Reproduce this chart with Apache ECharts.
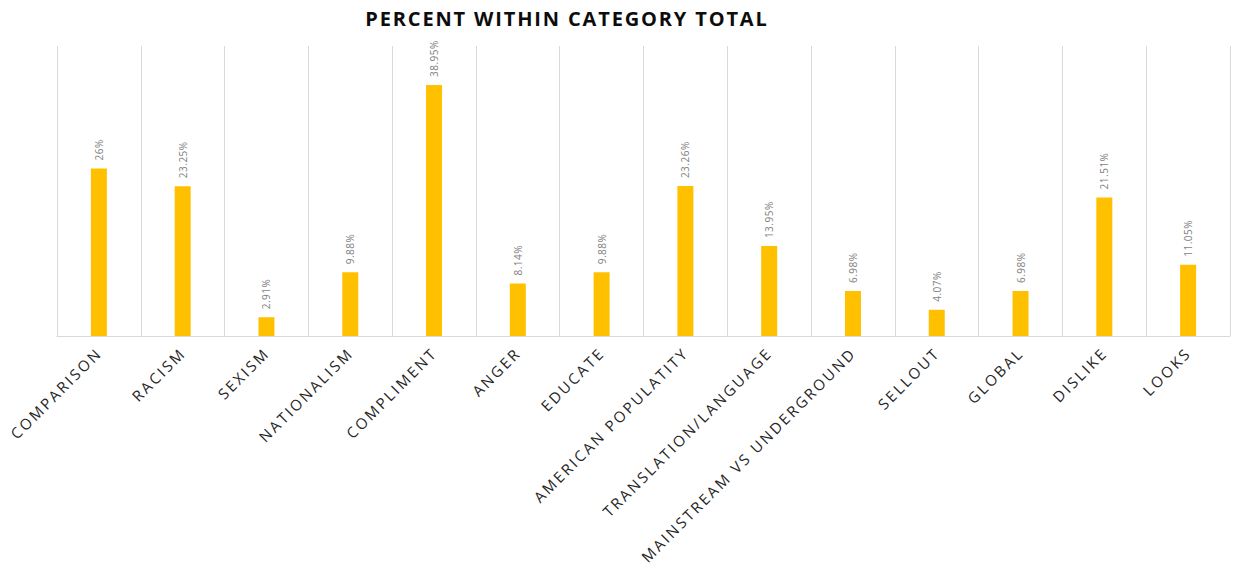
<!DOCTYPE html>
<html>
<head>
<meta charset="utf-8">
<script src="https://cdn.jsdelivr.net/npm/echarts@6/dist/echarts.min.js"></script>
<style>
html,body{margin:0;padding:0;background:#fff;}
#chart{width:1240px;height:572px;}
</style>
</head>
<body>
<div id="chart"></div>
<script>
const titleText = 'PERCENT WITHIN CATEGORY TOTAL';
const categories = ['COMPARISON','RACISM','SEXISM','NATIONALISM','COMPLIMENT','ANGER','EDUCATE','AMERICAN POPULATITY','TRANSLATION/LANGUAGE','MAINSTREAM VS UNDERGROUND','SELLOUT','GLOBAL','DISLIKE','LOOKS'];
const values = [26, 23.25, 2.91, 9.88, 38.95, 8.14, 9.88, 23.26, 13.95, 6.98, 4.07, 6.98, 21.51, 11.05];

const chart = echarts.init(document.getElementById('chart'), null, {renderer: 'svg'});
chart.setOption({
  animation: false,
  backgroundColor: '#ffffff',
  title: {
    text: titleText,
    left: 562, top: 3, textAlign: 'center',
    textStyle: {fontFamily: 'Open Sans', fontWeight: 'bold', fontSize: 20, color: '#0d0d0d'}
  },
  grid: {left: 57, right: 10, top: 46, bottom: 236},
  xAxis: {
    type: 'category',
    data: categories,
    boundaryGap: true,
    axisLine: {lineStyle: {color: '#d9d9d9', width: 1}},
    axisTick: {show: false},
    splitLine: {show: true, lineStyle: {color: '#d9d9d9', width: 1}},
    axisLabel: {rotate: 45, interval: 0, margin: 14, color: '#262626', fontFamily: 'Open Sans', fontSize: 15}
  },
  yAxis: {
    type: 'value', min: 0, max: 45,
    show: false,
    splitLine: {show: false}
  },
  series: [{
    type: 'bar',
    data: values,
    barWidth: 16,
    itemStyle: {color: '#FFC000'},
    label: {
      show: true, position: 'top', rotate: 90, align: 'left', verticalAlign: 'middle',
      distance: 8,
      color: '#7f7f7f', fontFamily: 'Open Sans', fontSize: 10,
      formatter: p => p.value + '%'
    }
  }]
});

function spacing(){
  document.querySelectorAll('#chart svg text').forEach(t => {
    const fs = parseFloat(getComputedStyle(t).fontSize);
    if (fs >= 18) t.style.letterSpacing = '1.85px';
    else if (fs >= 13) t.style.letterSpacing = '2.4px';
    else t.style.letterSpacing = '0.5px';
  });
}
chart.on('finished', spacing);
spacing();
</script>
</body>
</html>
